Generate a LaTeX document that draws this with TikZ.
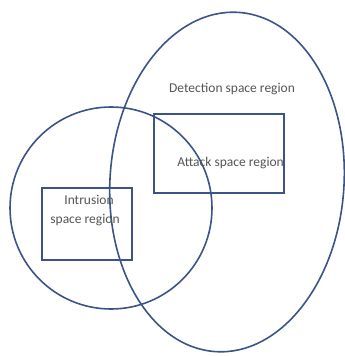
\documentclass[tikz,border=0pt]{standalone}
\usepackage{fontspec}
\setmainfont{Carlito}
\definecolor{lineblue}{HTML}{3A5488}
\definecolor{txtgray}{HTML}{555555}
\tikzset{
  region/.style={draw=lineblue, line width=1.6pt},
  lbl/.style={text=txtgray, font=\fontsize{13.5}{15}\selectfont, inner sep=0pt},
}
\begin{document}
\begin{tikzpicture}[x=1pt,y=-1pt]
\useasboundingbox (0,0) rectangle (345,356);
\draw[region] (227,182) ellipse[x radius=117, y radius=170, rotate=-4];
\draw[region] (111,208) circle[radius=101];
\node[region, minimum width=130pt, minimum height=79pt, inner sep=0pt] (attack) at (219,153.5) {};
\node[region, minimum width=90pt, minimum height=72pt, inner sep=0pt] (intr) at (87,224) {};
\node[lbl] (det) at (232,89) {Detection space region};
\node[lbl, anchor=east] (att) at (284,163) {Attack space region};
\node[lbl] (i1) at (89,200) {Intrusion};
\node[lbl] (i2) at (85,220) {space region};
\end{tikzpicture}
\end{document}
